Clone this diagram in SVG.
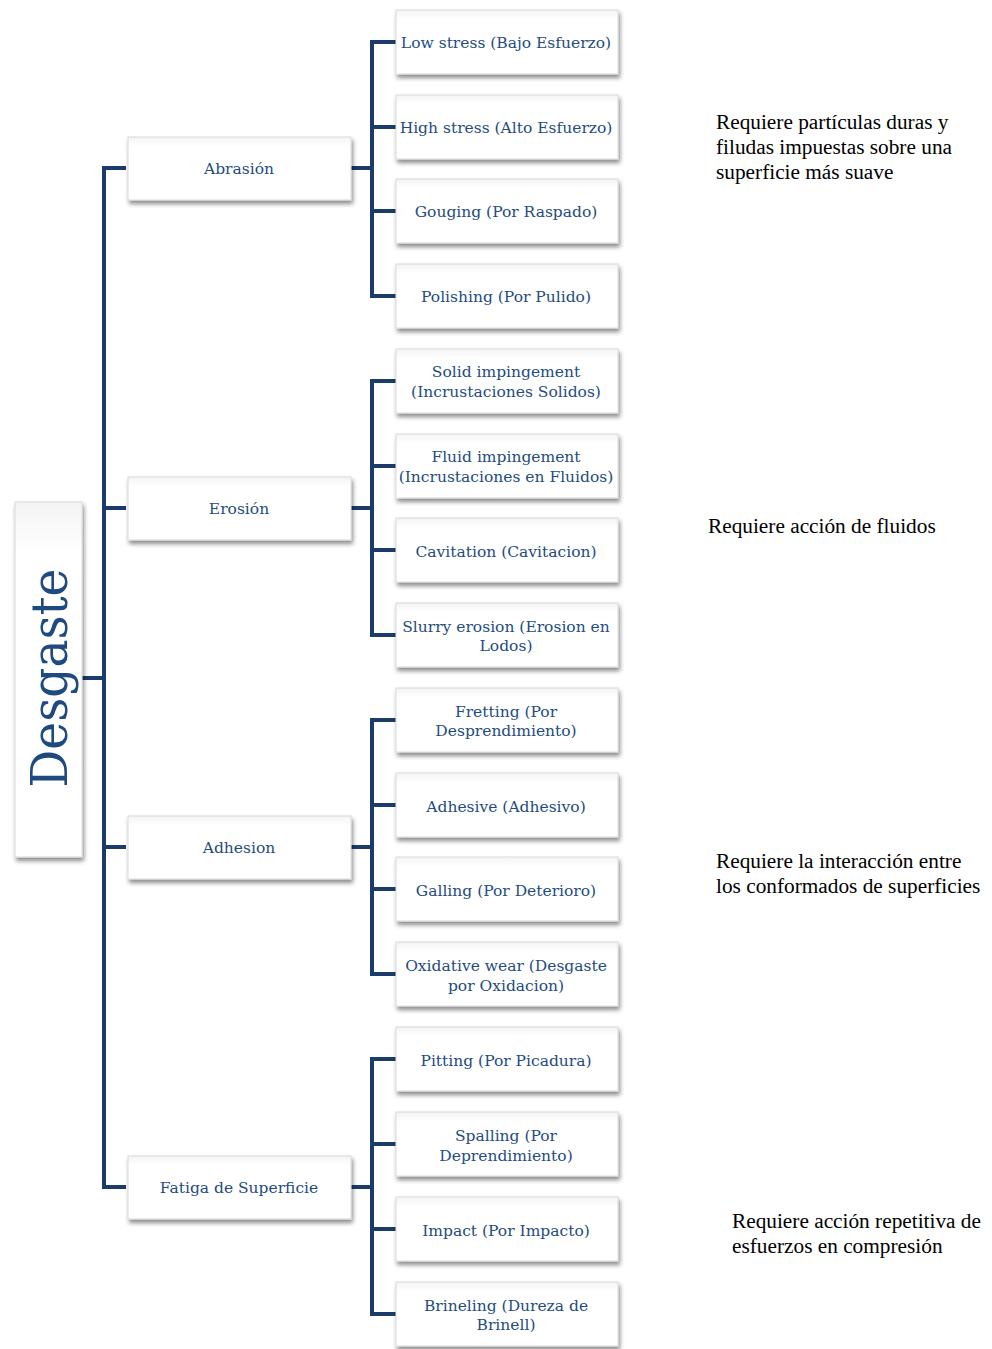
<svg xmlns="http://www.w3.org/2000/svg" width="992" height="1349" viewBox="0 0 992 1349">
<defs>
<filter id="sh" x="-10%" y="-20%" width="125%" height="150%">
<feDropShadow dx="1.5" dy="3.5" stdDeviation="2" flood-color="#000" flood-opacity="0.45"/>
</filter>
<linearGradient id="bx" x1="0" y1="0" x2="0" y2="1">
<stop offset="0" stop-color="#f4f4f4"/>
<stop offset="0.15" stop-color="#ffffff"/>
<stop offset="1" stop-color="#ffffff"/>
</linearGradient>
</defs>
<style>
.box{fill:url(#bx);stroke:#d9d9d9;stroke-width:1;filter:url(#sh)}
.t{font-family:"DejaVu Serif","Liberation Serif",serif;font-size:15.5px;fill:#244C80;text-anchor:middle}
.n{font-family:"Liberation Serif","Times New Roman",serif;font-size:21.3px;fill:#000}
.c{fill:none;stroke:#1B3C6B;stroke-width:4;stroke-linejoin:miter}
</style>
<rect width="992" height="1349" fill="#fff"/>

<g id="connectors">
<path class="c" d="M82 678H104M126 168H104V1187H126M104 508H126M104 847H126"/>
<path class="c" d="M351 168H372M396 42H372V296H396M372 127H396M372 211H396"/>
<path class="c" d="M351 508H372M396 381H372V635H396M372 466H396M372 550H396"/>
<path class="c" d="M351 847H372M396 720H372V974H396M372 805H396M372 889H396"/>
<path class="c" d="M351 1187H372M396 1059H372V1314H396M372 1144H396M372 1229H396"/>
</g>

<g id="desgaste">
<rect class="box" x="15" y="502" width="67" height="355"/>
<text transform="translate(67,678) rotate(-90)" font-family="DejaVu Serif,Liberation Serif,serif" font-size="50" fill="#1F4A80" text-anchor="middle" textLength="219" lengthAdjust="spacingAndGlyphs">Desgaste</text>
</g>

<g id="abrasion"><rect class="box" x="128" y="137" width="223" height="63"/><text class="t" x="239" y="174">Abrasión</text></g>
<g id="erosion"><rect class="box" x="128" y="477" width="223" height="63"/><text class="t" x="239" y="514">Erosión</text></g>
<g id="adhesion"><rect class="box" x="128" y="816" width="223" height="63"/><text class="t" x="239" y="853">Adhesion</text></g>
<g id="fatiga"><rect class="box" x="128" y="1156" width="223" height="63"/><text class="t" x="239" y="1193">Fatiga de Superficie</text></g>

<g id="low"><rect class="box" x="396" y="10" width="222" height="64"/><text class="t" x="506" y="48">Low stress (Bajo Esfuerzo)</text></g>
<g id="high"><rect class="box" x="396" y="95" width="222" height="64"/><text class="t" x="506" y="133">High stress (Alto Esfuerzo)</text></g>
<g id="gouging"><rect class="box" x="396" y="179" width="222" height="64"/><text class="t" x="506" y="217">Gouging (Por Raspado)</text></g>
<g id="polishing"><rect class="box" x="396" y="264" width="222" height="64"/><text class="t" x="506" y="302">Polishing (Por Pulido)</text></g>

<g id="solid"><rect class="box" x="396" y="349" width="222" height="64"/><text class="t" x="506" y="377">Solid impingement</text><text class="t" x="506" y="397">(Incrustaciones Solidos)</text></g>
<g id="fluid"><rect class="box" x="396" y="434" width="222" height="64"/><text class="t" x="506" y="462">Fluid impingement</text><text class="t" x="506" y="482">(Incrustaciones en Fluidos)</text></g>
<g id="cavitation"><rect class="box" x="396" y="518" width="222" height="64"/><text class="t" x="506" y="557">Cavitation (Cavitacion)</text></g>
<g id="slurry"><rect class="box" x="396" y="603" width="222" height="64"/><text class="t" x="506" y="632">Slurry erosion (Erosion en</text><text class="t" x="506" y="651">Lodos)</text></g>

<g id="fretting"><rect class="box" x="396" y="688" width="222" height="64"/><text class="t" x="506" y="717">Fretting (Por</text><text class="t" x="506" y="736">Desprendimiento)</text></g>
<g id="adhesive"><rect class="box" x="396" y="773" width="222" height="64"/><text class="t" x="506" y="812">Adhesive (Adhesivo)</text></g>
<g id="galling"><rect class="box" x="396" y="857" width="222" height="64"/><text class="t" x="506" y="896">Galling (Por Deterioro)</text></g>
<g id="oxidative"><rect class="box" x="396" y="942" width="222" height="64"/><text class="t" x="506" y="971">Oxidative wear (Desgaste</text><text class="t" x="506" y="991">por Oxidacion)</text></g>

<g id="pitting"><rect class="box" x="396" y="1027" width="222" height="64"/><text class="t" x="506" y="1066">Pitting (Por Picadura)</text></g>
<g id="spalling"><rect class="box" x="396" y="1112" width="222" height="64"/><text class="t" x="506" y="1141">Spalling (Por</text><text class="t" x="506" y="1161">Deprendimiento)</text></g>
<g id="impact"><rect class="box" x="396" y="1197" width="222" height="64"/><text class="t" x="506" y="1236">Impact (Por Impacto)</text></g>
<g id="brineling"><rect class="box" x="396" y="1282" width="222" height="64"/><text class="t" x="506" y="1311">Brineling (Dureza de</text><text class="t" x="506" y="1330">Brinell)</text></g>

<g id="notes">
<text class="n" x="716" y="129">Requiere partículas duras y</text>
<text class="n" x="716" y="154">filudas impuestas sobre una</text>
<text class="n" x="716" y="179">superficie más suave</text>
<text class="n" x="708" y="533">Requiere acción de fluidos</text>
<text class="n" x="716" y="868">Requiere la interacción entre</text>
<text class="n" x="716" y="893">los conformados de superficies</text>
<text class="n" x="732" y="1228">Requiere acción repetitiva de</text>
<text class="n" x="732" y="1253">esfuerzos en compresión</text>
</g>
</svg>
